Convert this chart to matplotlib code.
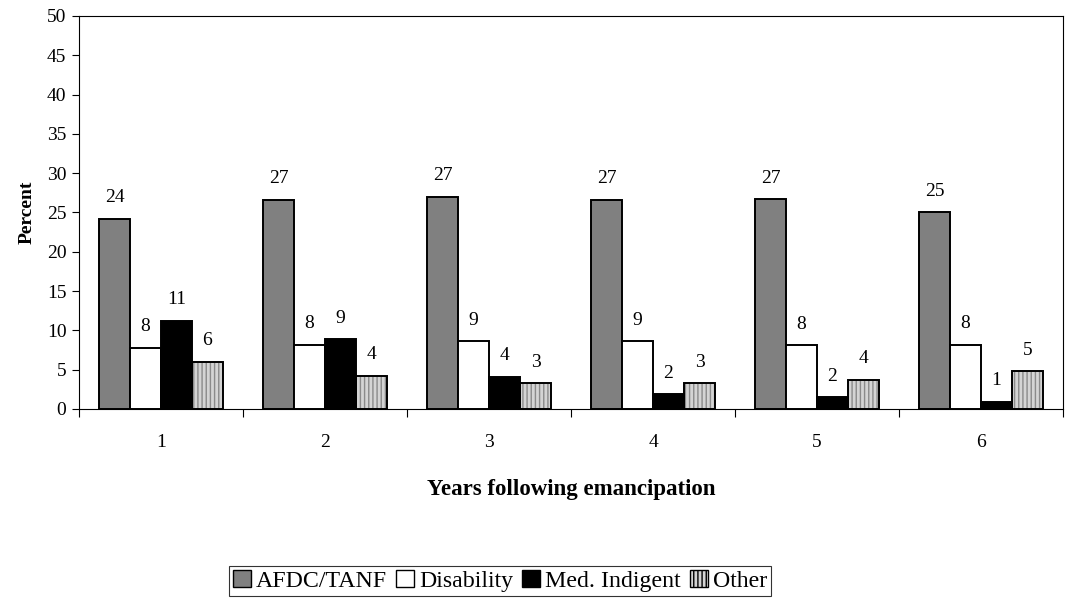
import numpy as np
import matplotlib.pyplot as plt
from matplotlib.patches import Patch

years = ["1", "2", "3", "4", "5", "6"]
afdc = [24.2, 26.6, 27.0, 26.6, 26.7, 25.0]
disability = [7.8, 8.2, 8.6, 8.6, 8.1, 8.2]
med_indigent = [11.2, 8.9, 4.1, 1.9, 1.5, 0.9]
other = [6.0, 4.2, 3.3, 3.3, 3.7, 4.8]

series_names = ["AFDC/TANF", "Disability", "Med. Indigent", "Other"]

plt.rcParams['font.family'] = ['Liberation Serif', 'DejaVu Serif']

fig = plt.figure(figsize=(10.73, 5.99), dpi=100)
ax = fig.add_axes([0.0736, 0.3172, 0.9171, 0.6561])

x = np.arange(len(years))
w = 0.189
series = [afdc, disability, med_indigent, other]
faces = ["#808080", "white", "black", "#d4d4d4"]

for i, (vals, fc) in enumerate(zip(series, faces)):
    pos = x + (i - 1.5) * w
    if i == 3:
        # hatch in grey, then black outline on top
        ax.bar(pos, vals, w, color=fc, edgecolor="#8a8a8a", hatch="||||", linewidth=0, zorder=2)
        ax.bar(pos, vals, w, fill=False, edgecolor="black", linewidth=1.4, zorder=3)
    else:
        ax.bar(pos, vals, w, color=fc, edgecolor="black", linewidth=1.4, zorder=3)
    for p, v in zip(pos, vals):
        ax.annotate(f"{round(v):d}", (p, v), xytext=(0, 9), textcoords="offset points",
                    ha="center", va="bottom", fontsize=14)

ax.set_xlim(-0.5, len(years) - 0.5)
ax.set_ylim(0, 50)
ax.set_yticks(range(0, 51, 5))
ax.set_xticks(x)
ax.set_xticklabels(years, fontsize=14)
ax.set_xticks(np.arange(-0.5, len(years)), minor=True)
ax.tick_params(axis="x", which="major", length=0, pad=18)
ax.tick_params(axis="x", which="minor", length=6, direction="out", width=0.8)
ax.tick_params(axis="y", labelsize=14, length=5, direction="out", width=0.8, pad=4)
for s in ax.spines.values():
    s.set_linewidth(0.8)

ax.set_xlabel("Years following emancipation", fontsize=16.5, fontweight="bold", labelpad=20)
ax.set_ylabel("Percent", fontsize=14, fontweight="bold", labelpad=8)

handles = [
    Patch(facecolor="#808080", edgecolor="black", linewidth=1),
    Patch(facecolor="white", edgecolor="black", linewidth=1),
    Patch(facecolor="black", edgecolor="black", linewidth=1),
    Patch(facecolor="#d4d4d4", edgecolor="black", hatch="||||", linewidth=1),
]
leg = fig.legend(handles, series_names, loc="center", bbox_to_anchor=(0.466, 0.030), ncol=4,
                 fontsize=17.2, frameon=True, fancybox=False, edgecolor="black",
                 handlelength=0.75, handleheight=0.75, handletextpad=0.2, columnspacing=0.4,
                 borderpad=0.15, borderaxespad=0)
leg.get_frame().set_linewidth(0.8)

plt.savefig("out.png", dpi=100)
